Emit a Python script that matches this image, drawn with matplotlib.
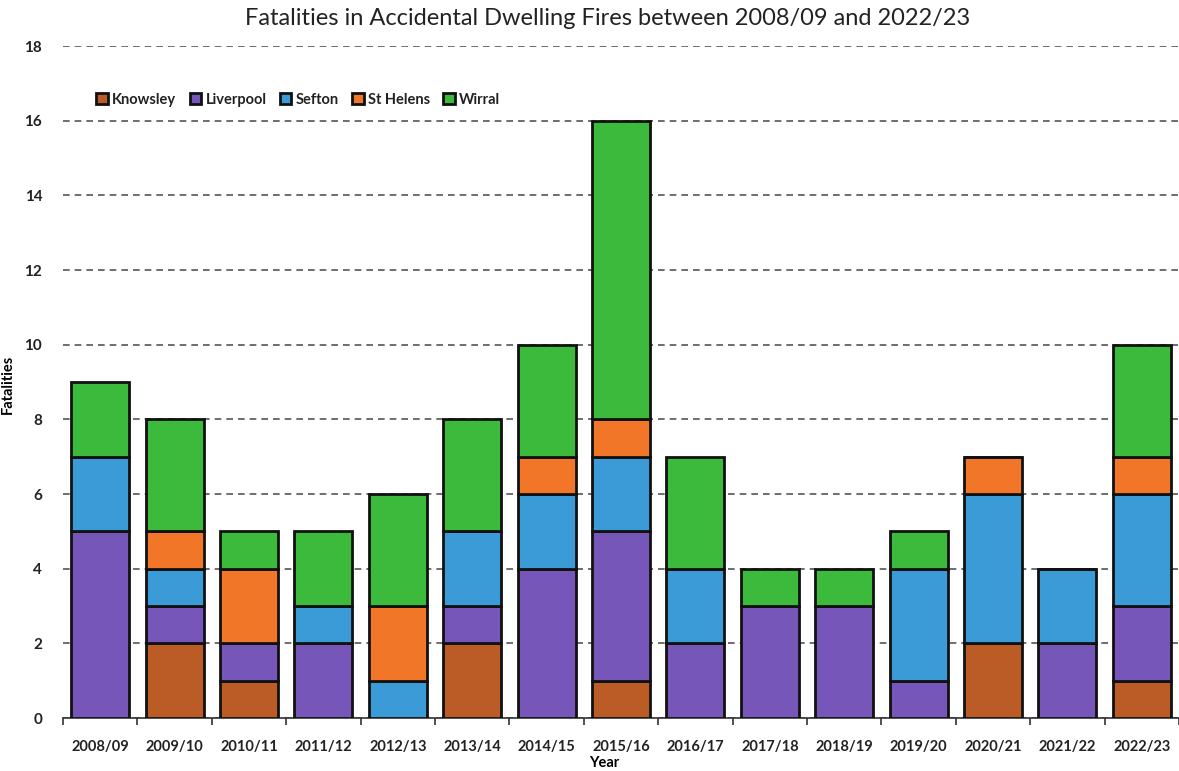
import matplotlib
matplotlib.use("Agg")
import matplotlib.pyplot as plt
import numpy as np

years = ["2008/09", "2009/10", "2010/11", "2011/12", "2012/13", "2013/14", "2014/15",
         "2015/16", "2016/17", "2017/18", "2018/19", "2019/20", "2020/21", "2021/22", "2022/23"]
knowsley  = [0, 2, 1, 0, 0, 2, 0, 1, 0, 0, 0, 0, 2, 0, 1]
liverpool = [5, 1, 1, 2, 0, 1, 4, 4, 2, 3, 3, 1, 0, 2, 2]
sefton    = [2, 1, 0, 1, 1, 2, 2, 2, 2, 0, 0, 3, 4, 2, 3]
st_helens = [0, 1, 2, 0, 2, 0, 1, 1, 0, 0, 0, 0, 1, 0, 1]
wirral    = [2, 3, 1, 2, 3, 3, 3, 8, 3, 1, 1, 1, 0, 0, 3]

series = [("Knowsley", knowsley, "#bb5b26"),
          ("Liverpool", liverpool, "#7657b9"),
          ("Sefton", sefton, "#3b9bd6"),
          ("St Helens", st_helens, "#f27628"),
          ("Wirral", wirral, "#3cba3c")]

plt.rcParams['font.family'] = ['Lato', 'DejaVu Sans']

fig = plt.figure(figsize=(11.79, 7.71), dpi=100)
ax = fig.add_axes([0.0535, 0.0687, 0.9465, 0.8716])

x = np.arange(len(years))
bottom = np.zeros(len(years))
for name, vals, color in series:
    vals = np.array(vals, dtype=float)
    ax.bar(x, vals, 0.78, bottom=bottom, color=color, edgecolor="#111111",
           linewidth=2, label=name, zorder=3)
    bottom += vals

ax.set_xlim(-0.5, len(years) - 0.5)
ax.set_ylim(0, 18)
ax.set_yticks(np.arange(0, 19, 2))
ax.yaxis.grid(True, linestyle=(0, (4, 3)), color="#555555", linewidth=1.2, zorder=0)
ax.set_axisbelow(True)

ax.set_xticks(x)
ax.set_xticklabels(years, fontsize=10.5, fontweight="bold", color="#222222")
ax.set_xticks(np.arange(-0.5, len(years), 1), minor=True)
ax.tick_params(axis="x", which="major", length=0, pad=16)
ax.tick_params(axis="x", which="minor", length=5, width=1.2, color="#333333")
ax.tick_params(axis="y", length=0, labelsize=11, pad=15, labelcolor="#222222")
for lbl in ax.get_yticklabels():
    lbl.set_fontweight("bold")

for side in ["top", "right", "left"]:
    ax.spines[side].set_visible(False)
ax.spines["bottom"].set_color("#333333")
ax.spines["bottom"].set_linewidth(1.2)

ax.set_xlabel("Year", fontsize=10.5, fontweight="bold")
ax.xaxis.set_label_coords(0.485, -0.057)
ax.set_ylabel("Fatalities", fontsize=10.5, fontweight="bold")
ax.yaxis.set_label_coords(-0.043, 0.497)

fig.suptitle("Fatalities in Accidental Dwelling Fires between 2008/09 and 2022/23",
             fontsize=17, y=0.99, x=0.515, color="#222222")

leg = ax.legend(loc="upper left", bbox_to_anchor=(0.018, 0.95), ncol=5, frameon=False,
                fontsize=10.5, handlelength=0.8, handleheight=0.8, handletextpad=0.3,
                columnspacing=0.9)
for t in leg.get_texts():
    t.set_fontweight("bold")
    t.set_color("#222222")

fig.savefig("out.png", dpi=100, facecolor="white")
